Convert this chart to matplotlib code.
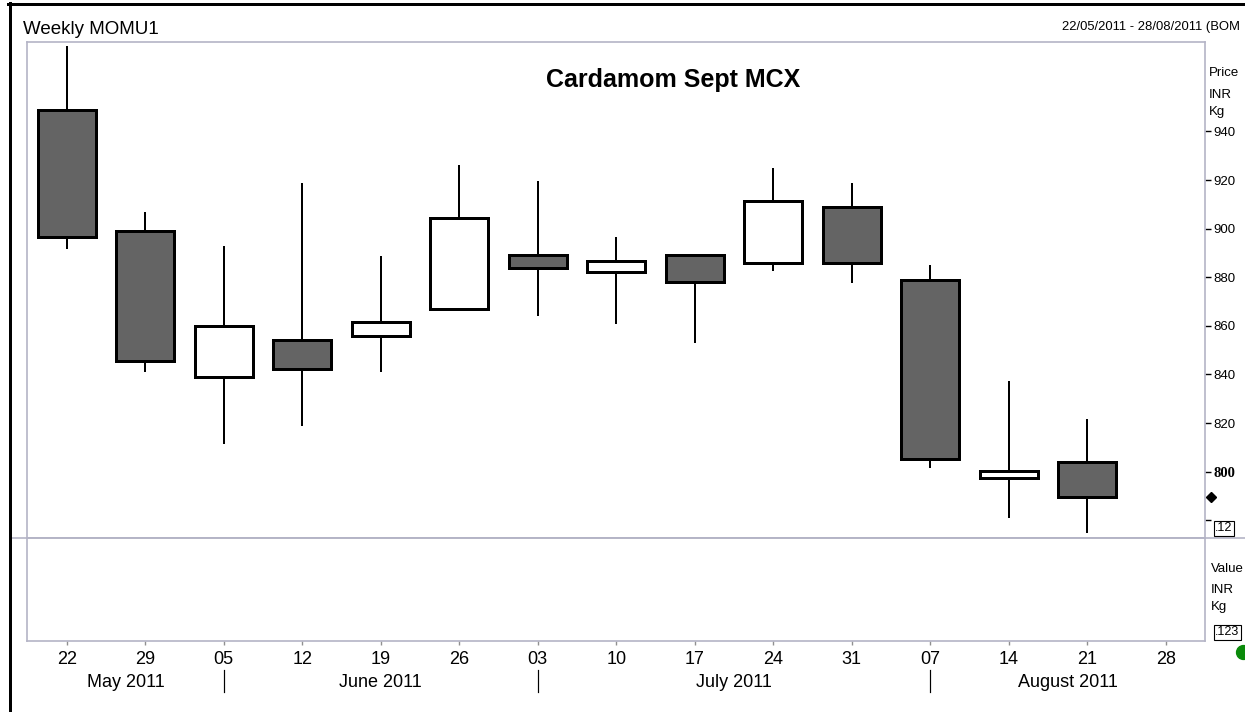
import matplotlib
matplotlib.use('Agg')
import matplotlib.pyplot as plt
from matplotlib.patches import Rectangle
from matplotlib.lines import Line2D
from matplotlib.transforms import blended_transform_factory

plt.rcParams['font.family'] = ['Liberation Sans', 'DejaVu Sans']

# weekly candles, Cardamom Sept MCX
days = ['22', '29', '05', '12', '19', '26', '03', '10', '17', '24', '31', '07', '14', '21', '28']
opens = [948.7, 899.2, 839.0, 854.0, 855.8, 867.0, 889.0, 882.0, 889.0, 885.7, 908.8, 879.0, 797.2, 804.0]
highs = [975.2, 906.7, 893.0, 918.9, 888.9, 926.1, 919.8, 896.5, 889.0, 924.9, 918.9, 885.0, 837.3, 821.7]
lows = [891.6, 841.2, 811.3, 818.8, 841.2, 867.0, 864.1, 860.8, 852.8, 882.7, 877.5, 801.4, 780.8, 774.7]
closes = [896.6, 845.6, 860.0, 842.3, 861.6, 904.2, 883.6, 886.5, 878.1, 911.3, 885.7, 805.4, 800.1, 789.7]

months = ['May 2011', 'June 2011', 'July 2011', 'August 2011']
month_pos = [0.75, 4, 8.5, 12.75]
month_breaks = [2, 6, 11]

price_ticks = [780, 800, 820, 840, 860, 880, 900, 920, 940]

W, H = 1245, 712
fig = plt.figure(figsize=(W / 100, H / 100), dpi=100)
frame = '#b4b4c6'
dark = '#646464'
PX = 0.72  # points per pixel

ax = fig.add_axes([27 / W, 1 - 538 / H, 1178 / W, 496 / H])
ax2 = fig.add_axes([27 / W, 1 - 641 / H, 1178 / W, 103 / H], sharex=ax)

for i in range(len(opens)):
    o, c = opens[i], closes[i]
    ax.vlines(i, lows[i], highs[i], color='black', lw=2 * PX, zorder=2)
    ax.add_patch(Rectangle((i - 0.37, min(o, c)), 0.74, abs(c - o),
                           facecolor=dark if c < o else 'white',
                           edgecolor='black', lw=3 * PX, zorder=3))

ax.set_xlim(-0.506, 14.5)
ax.set_ylim(772.7, 976.8)
ax.yaxis.tick_right()
ax.set_yticks(price_ticks)
ax.set_yticklabels([''] + [str(t) for t in price_ticks[1:]])
ax.tick_params(axis='y', direction='out', length=4, width=1, labelsize=9.5, pad=2)
ax.tick_params(axis='x', bottom=False, labelbottom=False)
lbl800 = ax.get_yticklabels()[1]
lbl800.set_fontweight('bold')
lbl800.set_fontfamily(['Liberation Serif'])
lbl800.set_fontsize(10.5)

ax2.set_yticks([])
ax2.set_xticks(range(len(days)))
ax2.set_xticklabels(days)
ax2.tick_params(axis='x', direction='out', length=3, width=1, color='#909090',
                labelsize=13, pad=4.5)

for a in (ax, ax2):
    for s in a.spines.values():
        s.set_color(frame)
        s.set_linewidth(1.2)

# last close marker on the price scale
tr = blended_transform_factory(ax.transAxes, ax.transData)
ax.plot([1.005], [closes[-1]], marker='D', ms=5, color='black', transform=tr, clip_on=False)

# month labels and separators
tb = blended_transform_factory(ax2.transData, fig.transFigure)
for m, p in zip(months, month_pos):
    ax2.text(p, 1 - 687 / H, m, transform=tb, ha='center', va='baseline', fontsize=13)
for b in month_breaks:
    ax2.add_line(Line2D([b, b], [1 - 670 / H, 1 - 692 / H], transform=tb, color='black',
                        lw=1.2 * PX, clip_on=False))

# texts
fig.text(673 / W, 1 - 87 / H, 'Cardamom Sept MCX', ha='center', va='baseline',
         fontsize=18, fontweight='bold')
fig.text(23 / W, 1 - 34 / H, 'Weekly MOMU1', ha='left', va='baseline', fontsize=13.5)
fig.text(1062 / W, 1 - 30 / H, '22/05/2011 - 28/08/2011 (BOM', ha='left', va='baseline',
         fontsize=9.4)
for t, yb in zip(['Price', 'INR', 'Kg'], [76, 98, 115]):
    fig.text(1209 / W, 1 - yb / H, t, ha='left', va='baseline', fontsize=9.5)
for t, yb in zip(['Value', 'INR', 'Kg'], [572, 593, 610]):
    fig.text(1211 / W, 1 - yb / H, t, ha='left', va='baseline', fontsize=9.5)
box = dict(boxstyle='square,pad=0.12', fc='white', ec='black', lw=0.8)
fig.text(1215 / W, 1 - 528 / H, '.12', ha='left', va='center', fontsize=9, bbox=box)
fig.text(1215 / W, 1 - 632 / H, '.123', ha='left', va='center', fontsize=9, bbox=box)

# frame lines
fig.add_artist(Line2D([10 / W, 1], [1 - 538 / H] * 2, color=frame, lw=1.2))
fig.add_artist(Line2D([9.5 / W] * 2, [0, 1 - 3 / H], color='black', lw=3 * PX))
fig.add_artist(Line2D([8 / W, 1], [1 - 4 / H] * 2, color='black', lw=3 * PX))
fig.add_artist(Line2D([1243 / W], [1 - 652 / H], marker='o', ms=10, color='#0a8a0a',
                      transform=fig.transFigure))

fig.savefig('out.png', dpi=100)
